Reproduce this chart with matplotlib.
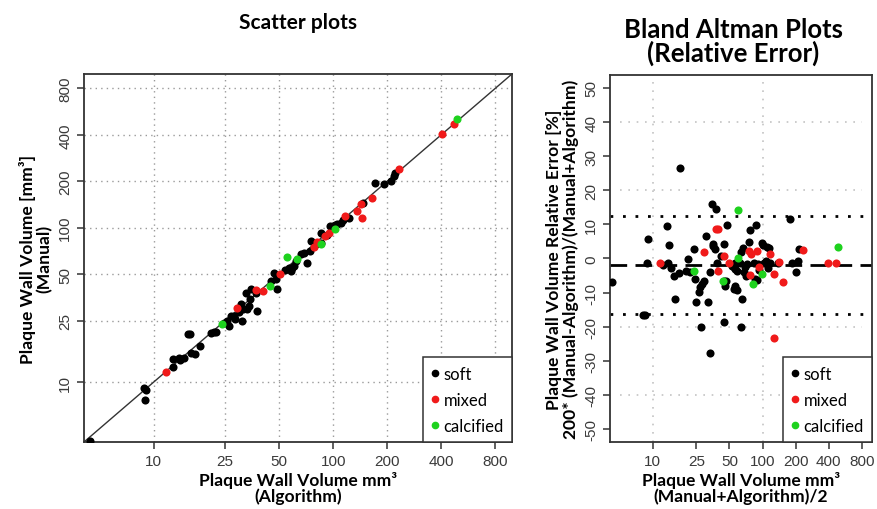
import matplotlib
matplotlib.use("Agg")
from matplotlib import pyplot as plt
from matplotlib.lines import Line2D

# ---- scatter plot data: (algorithm, manual) volumes in mm3 ----
soft_alg = [4.43, 8.8, 9.1, 9.0, 12.8, 12.9, 13.8, 14.1, 14.8, 15.6, 16.0, 16.2, 17.1, 18.1,
            20.9, 21.7, 22.4, 24.8, 26.4, 25.5, 27.0, 28.0, 28.4, 29.9, 30.5, 31.0, 31.3, 32.5,
            33.2, 34.0, 34.6, 34.9, 37.9, 37.0, 45.0, 46.8, 48.8, 48.3, 54.0, 56.6, 57.9, 59.0,
            60.4, 62.0, 65.8, 68.7, 71.1, 74.2, 75.5, 80.0, 85.1, 85.9, 92.0, 96.6, 100, 103,
            105, 110, 114, 122, 147, 172, 192, 209, 218, 222]
soft_man = [4.13, 9.2, 8.9, 7.7, 12.6, 14.2, 14.4, 14.0, 14.4, 20.4, 20.4, 15.4, 15.2, 17.2,
            20.7, 21.2, 21.2, 24.1, 23.2, 24.9, 27.0, 26.9, 25.6, 28.3, 32.0, 24.9, 29.7, 38.0,
            29.7, 31.2, 34.4, 40.0, 29.0, 38.0, 45.3, 51.3, 40.4, 46.4, 53.0, 55.2, 52.5, 55.0,
            56.6, 61.0, 67.3, 69.0, 58.9, 70.8, 82.2, 78.0, 79.4, 93.1, 90.0, 101.9, 102.8, 104,
            105, 108, 113, 116, 145, 194, 191, 201, 216, 225]
mixed_alg = [11.8, 29.2, 37.4, 40.7, 50.5, 78.7, 81.5, 90.6, 94.5, 117, 135, 142, 144, 165,
             234, 405, 470]
mixed_man = [11.6, 30.4, 39.4, 39.0, 50.0, 75.5, 80.9, 88.5, 93.1, 119, 128.5, 142, 115, 155,
             239, 403, 468]
calc_alg = [24.1, 44.5, 55.5, 62.5, 85.9, 103, 490]
calc_man = [23.7, 42.0, 64.7, 63.1, 78.2, 97.8, 509]

# ---- Bland Altman data: mean volume, relative error [%] ----
ba_soft_x = [4.25, 8.2, 8.6, 9.1, 8.9, 12.5, 13.4, 14.1, 13.9, 14.6, 15.6, 15.9, 17.3, 17.7,
             20.9, 20.3, 22.1, 24.0, 24.5, 25.0, 26.7, 27.2, 28.2, 29.2, 27.6, 30.9, 31.7, 33.1,
             33.6, 34.7, 35.2, 35.5, 37.2, 37.8, 38.6, 42.2, 44.3, 44.9, 44.3, 47.5, 46.9, 45.2,
             52.7, 54.6, 55.7, 56.5, 58.5, 55.3, 56.5, 58.5, 61.9, 64.1, 66.0, 65.0, 63.6, 67.3,
             69.6, 70.7, 72.1, 74.6, 77.3, 82.8, 85.8, 87.7, 90.9, 93.7, 88.9, 98.6, 100, 103,
             107, 109, 114, 116, 112, 137, 178, 187, 200, 212, 216]
ba_soft_y = [-7.0, -16.6, -16.6, 5.7, -1.4, -1.9, 9.6, 4.0, -1.2, -2.8, -5.1, -11.9, -4.3, 26.4,
             -0.2, -3.6, -4.1, 2.7, -6.1, -12.7, -9.8, -8.5, -7.5, -6.5, -20.2, 6.5, -12.9, -4.1,
             -27.6, 16.1, 3.7, 4.2, 2.7, 14.5, -1.2, 0.8, 4.2, -6.5, -18.6, 9.8, -6.5, -8.0,
             -2.2, -2.6, -1.2, -3.1, -3.6, -8.8, -8.0, -9.3, -1.2, 1.8, 3.2, -11.9, -20.0, -4.1,
             -2.6, -5.1, -1.7, 4.7, 8.3, -1.2, -6.1, 9.8, -1.7, -3.4, -6.4, 4.5, 3.9, -1.2,
             -0.7, 3.5, 3.0, -1.2, -2.9, -1.2, 11.5, -1.2, -4.1, -0.7, 2.9]
ba_mixed_x = [11.6, 29.6, 37.8, 39.1, 39.1, 44.9, 49.2, 74.6, 76.2, 78.3, 88.9, 92.3, 117, 126,
              126, 141, 155, 235, 396, 462]
ba_mixed_y = [-1.2, 1.8, 8.6, 8.6, -3.8, 0.8, -1.2, 2.2, -4.8, 1.3, 2.2, -2.6, 1.3, -4.6,
              -23.2, -0.9, -6.8, 2.5, -1.2, -1.2]
ba_calc_x = [23.7, 43.4, 59.3, 59.3, 81.7, 98.6, 489]
ba_calc_y = [-3.8, -6.5, 14.2, 0.2, -7.4, -4.6, 3.4]

ba_mean = -2.0
ba_upper = 12.4
ba_lower = -16.4

log_ticks = [10, 25, 50, 100, 200, 400, 800]
log_lim = (4.1, 990)
err_ticks = list(range(-50, 51, 10))

col_soft = "black"
col_mixed = "#f01a1a"
col_calc = "#1ed21e"

plt.rcParams['font.family'] = ['Liberation Sans', 'DejaVu Sans']
lab_font = dict(family='Lato', weight='bold', size=12.6)

fig = plt.figure(figsize=(8.77, 5.10), dpi=100)
ax1 = fig.add_axes([0.0958, 0.1314, 0.488, 0.7216])
ax2 = fig.add_axes([0.6956, 0.1314, 0.2987, 0.7196])


def style_axes(ax):
    for s in ax.spines.values():
        s.set_linewidth(1.3)
        s.set_color("#333333")
    ax.tick_params(axis='both', which='major', direction='out', length=5, width=1.1,
                   color="#333333", labelsize=11, labelcolor="#3a3a3a")
    ax.tick_params(which='minor', length=0)
    for lab in ax.get_yticklabels():
        lab.set_rotation(90)
        lab.set_va('center')


def add_legend(ax):
    handles = [Line2D([], [], ls='', marker='o', ms=4.5, color=c) for c in (col_soft, col_mixed, col_calc)]
    leg = ax.legend(handles, ["soft", "mixed", "calcified"], loc='lower right',
                    fancybox=False, framealpha=1, edgecolor="#333333", borderaxespad=0,
                    handlelength=0.4, handletextpad=0.3, labelspacing=0.6,
                    prop=dict(family='Lato', size=12), borderpad=0.5)
    leg.get_frame().set_linewidth(1.1)


# ---------------- scatter plot ----------------
ax1.set_xscale('log')
ax1.set_yscale('log')
ax1.set_xlim(log_lim)
ax1.set_ylim(log_lim)
for t in log_ticks:
    ax1.axvline(t, color="#9a9a9a", ls=(0, (1, 3)), lw=1, zorder=0)
    ax1.axhline(t, color="#9a9a9a", ls=(0, (1, 3)), lw=1, zorder=0)
ax1.plot(log_lim, log_lim, color="#333333", lw=1, zorder=1)
ax1.scatter(soft_alg, soft_man, s=34, color=col_soft, zorder=3, linewidths=0)
ax1.scatter(mixed_alg, mixed_man, s=34, color=col_mixed, zorder=3, linewidths=0)
ax1.scatter(calc_alg, calc_man, s=34, color=col_calc, zorder=3, linewidths=0)
ax1.set_xticks(log_ticks)
ax1.set_xticklabels([str(t) for t in log_ticks])
ax1.set_yticks(log_ticks)
ax1.set_yticklabels([str(t) for t in log_ticks])
style_axes(ax1)
ax1.set_xlabel("Plaque Wall Volume mm³\n(Algorithm)", fontdict=lab_font, linespacing=1.0, labelpad=2)
ax1.set_ylabel("Plaque Wall Volume [mm³]\n(Manual)", fontdict=lab_font, linespacing=1.0, labelpad=4)
ax1.set_title("Scatter plots", family='Lato', weight='bold', size=15, pad=33)
add_legend(ax1)

# ---------------- Bland Altman plot ----------------
ax2.set_xscale('log')
ax2.set_xlim(log_lim)
ax2.set_ylim(-53.8, 53.8)
for t in [10, 100]:
    ax2.axvline(t, color="#c4c4c4", ls=(0, (1, 4)), lw=1.2, zorder=0)
ax2.hlines([-40, -20, 20, 40], 5, 800, color="#c4c4c4", ls=(0, (1, 4)), lw=1.2, zorder=0)
ax2.axhline(ba_mean, color="black", ls=(0, (6, 3)), lw=2, zorder=2)
ax2.hlines([ba_upper, ba_lower], log_lim[0], 830, color="black", ls=(0, (1, 3.5)), lw=2, zorder=2)
ax2.scatter(ba_soft_x, ba_soft_y, s=34, color=col_soft, zorder=3, linewidths=0)
ax2.scatter(ba_mixed_x, ba_mixed_y, s=34, color=col_mixed, zorder=3, linewidths=0)
ax2.scatter(ba_calc_x, ba_calc_y, s=34, color=col_calc, zorder=3, linewidths=0)
ax2.set_xticks(log_ticks)
ax2.set_xticklabels([str(t) for t in log_ticks])
ax2.set_yticks(err_ticks)
ax2.set_yticklabels([str(t) for t in err_ticks])
style_axes(ax2)
ax2.set_xlabel("Plaque Wall Volume mm³\n(Manual+Algorithm)/2", fontdict=lab_font, linespacing=1.0, labelpad=2)
ax2.set_ylabel("Plaque Wall Volume Relative Error [%]\n200* (Manual-Algorithm)/(Manual+Algorithm)",
               fontdict=lab_font, linespacing=1.0, labelpad=4)
ax2.set_title("Bland Altman Plots\n(Relative Error)", family='Lato', weight='bold', size=18.5,
              linespacing=0.95, pad=10, x=0.47)
add_legend(ax2)

fig.savefig("out.png", dpi=100)
